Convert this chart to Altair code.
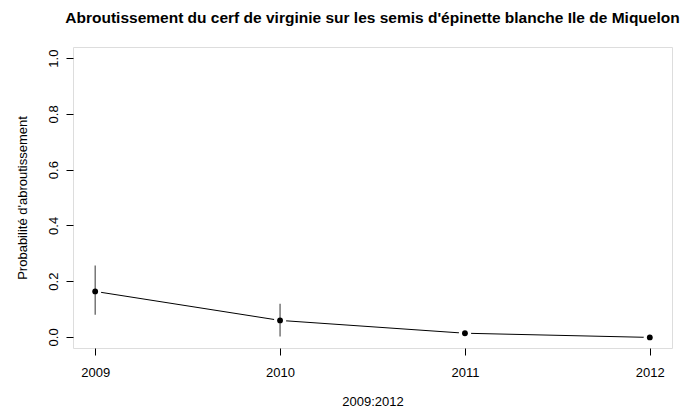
import altair as alt
import pandas as pd

years = [2009, 2010, 2011, 2012]
prob = [0.163, 0.059, 0.013, -0.002]
lower = [0.079, 0.001, 0.006, -0.004]
upper = [0.256, 0.119, 0.020, 0.000]

df = pd.DataFrame({"year": years, "p": prob, "lo": lower, "hi": upper})

FONT = "Liberation Sans"

x = alt.X("year:Q", title="2009:2012",
          scale=alt.Scale(domain=[2008.88, 2012.12], nice=False, zero=False),
          axis=alt.Axis(values=years, format="d", grid=False, domain=False,
                        tickSize=7, tickColor="black", labelPadding=11,
                        labelFontSize=13, labelFont=FONT, labelColor="black",
                        titleFont=FONT, titleFontSize=13, titleFontWeight="normal",
                        titleColor="black", titlePadding=16))
y = alt.Y("p:Q", title="Probabilité d'abroutissement",
          scale=alt.Scale(domain=[-0.04, 1.04], nice=False, zero=False),
          axis=alt.Axis(values=[0, 0.2, 0.4, 0.6, 0.8, 1.0], format=".1f", grid=False,
                        domain=False, tickSize=7, tickColor="black",
                        labelAngle=-90, labelAlign="center", labelBaseline="bottom",
                        labelPadding=6, labelFontSize=13, labelFont=FONT,
                        labelColor="black", titleFont=FONT, titleFontSize=13,
                        titleFontWeight="normal", titleColor="black", titlePadding=18))

base = alt.Chart(df)
line = base.mark_line(color="black", strokeWidth=1).encode(x=x, y=y)
halo = base.mark_circle(color="white", opacity=1, size=150).encode(x=x, y=y)
err = base.mark_rule(color="#555555", strokeWidth=1.2).encode(x=x, y="lo:Q", y2="hi:Q")
pts = base.mark_circle(color="black", opacity=1, size=34).encode(x=x, y=y)

chart = alt.layer(line, halo, err, pts).properties(
    width=599, height=301,
    title=alt.TitleParams(
        "Abroutissement du cerf de virginie sur les semis d'épinette blanche Ile de Miquelon",
        font=FONT, fontSize=15.5, fontWeight="bold", color="black", anchor="middle",
        offset=21),
    autosize=alt.AutoSizeParams(type="none"),
    padding={"left": 65, "top": 39, "right": 16, "bottom": 60},
).configure_view(stroke="black", strokeWidth=1).configure(background="white")

chart.save("out.html", embed_options={"renderer": "svg", "actions": False})
